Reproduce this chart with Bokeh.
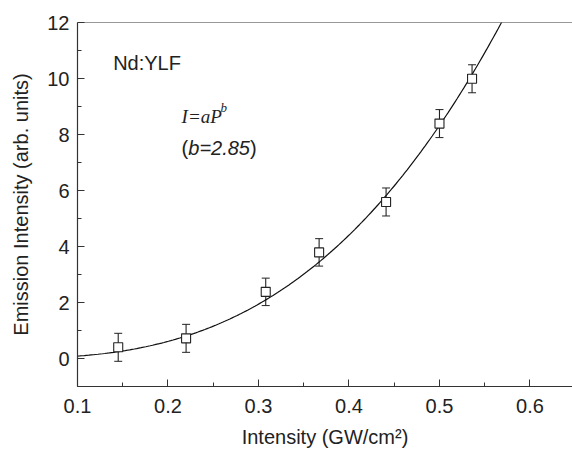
import numpy as np
from bokeh.plotting import figure
from bokeh.models import (ColumnDataSource, Whisker, Label, Span, FixedTicker,
                          Range1d)
from bokeh.embed import file_html
from bokeh.resources import INLINE

# ---- data ----
intensity = [0.145, 0.220, 0.308, 0.367, 0.441, 0.500, 0.536]
emission = [0.40, 0.72, 2.38, 3.79, 5.59, 8.39, 9.99]
emission_err = [0.50, 0.50, 0.49, 0.49, 0.50, 0.50, 0.50]

# fitted power law I = a * P^b (b = 2.85 as stated on the chart)
fit_a = 60.0
fit_b = 2.85

x_ticks = [0.1, 0.2, 0.3, 0.4, 0.5, 0.6]
x_minor = [0.15, 0.25, 0.35, 0.45, 0.55, 0.65]
y_ticks = [0, 2, 4, 6, 8, 10, 12]
y_minor = [-1, 1, 3, 5, 7, 9, 11]

FONT = "Liberation Sans"
TXT = "#222222"

p = figure(width=572, height=450, output_backend="svg", toolbar_location=None,
           x_range=Range1d(0.1, 0.647), y_range=Range1d(-1, 12),
           min_border_left=77, min_border_top=22, min_border_right=0,
           min_border_bottom=60)
p.outline_line_color = None
p.grid.visible = False
p.background_fill_color = "white"

# top frame line
p.add_layout(Span(location=12, dimension="width", line_color="#333333",
                  line_width=1.2))

# fit curve
px = np.linspace(0.1, 0.6, 200)
p.line(px, fit_a * px ** fit_b, line_color="#111111", line_width=1.2)

src = ColumnDataSource(dict(
    x=intensity, y=emission,
    lo=[v - e for v, e in zip(emission, emission_err)],
    hi=[v + e for v, e in zip(emission, emission_err)]))

w = Whisker(source=src, base="x", lower="lo", upper="hi",
            line_color="#222222", line_width=1.1)
w.upper_head.size = 8
w.lower_head.size = 8
w.upper_head.line_color = "#222222"
w.lower_head.line_color = "#222222"
p.add_layout(w)

p.scatter("x", "y", source=src, marker="square", size=9,
          fill_color="white", line_color="#222222", line_width=1.1)

# axes
for ax in (p.xaxis[0], p.yaxis[0]):
    ax.axis_line_color = "#333333"
    ax.axis_line_width = 1.2
    ax.major_tick_line_color = "#333333"
    ax.minor_tick_line_color = "#333333"
    ax.major_tick_in = 7
    ax.major_tick_out = 0
    ax.minor_tick_in = 4
    ax.minor_tick_out = 0
    ax.major_label_text_font = FONT
    ax.major_label_text_font_size = "20px"
    ax.major_label_text_color = TXT
    ax.axis_label_text_font = FONT
    ax.axis_label_text_font_size = "20px"
    ax.axis_label_text_font_style = "normal"
    ax.axis_label_text_color = TXT

p.xaxis.ticker = FixedTicker(ticks=x_ticks, minor_ticks=x_minor)
p.yaxis.ticker = FixedTicker(ticks=y_ticks, minor_ticks=y_minor)
p.xaxis.axis_label = "Intensity (GW/cm²)"
p.yaxis.axis_label = "Emission Intensity (arb. units)"
p.xaxis.major_label_standoff = 12
p.yaxis.major_label_standoff = 8
p.xaxis.axis_label_standoff = 10
p.yaxis.axis_label_standoff = 12

# annotations
p.add_layout(Label(x=0.1394, y=10.54, text="Nd:YLF", text_font=FONT,
                   text_font_size="20px", text_color=TXT,
                   text_baseline="alphabetic"))
p.add_layout(Label(x=0.215, y=8.66, text="I=aP", text_font="Liberation Serif",
                   text_font_style="italic", text_font_size="19px",
                   text_color=TXT, text_baseline="alphabetic"))
p.add_layout(Label(x=0.215, y=8.66, x_offset=39, y_offset=9, text="b",
                   text_font="Liberation Serif", text_font_style="italic",
                   text_font_size="13px", text_color=TXT,
                   text_baseline="alphabetic"))
p.add_layout(Label(x=0.215, y=7.53, text="(", text_font=FONT,
                   text_font_size="20px", text_color=TXT,
                   text_baseline="alphabetic"))
p.add_layout(Label(x=0.215, y=7.53, x_offset=6.7, text="b=2.85", text_font=FONT,
                   text_font_style="italic", text_font_size="20px",
                   text_color=TXT, text_baseline="alphabetic"))
p.add_layout(Label(x=0.215, y=7.53, x_offset=68.5, text=")", text_font=FONT,
                   text_font_size="20px", text_color=TXT,
                   text_baseline="alphabetic"))

open("out.html", "w").write(file_html(p, INLINE))
